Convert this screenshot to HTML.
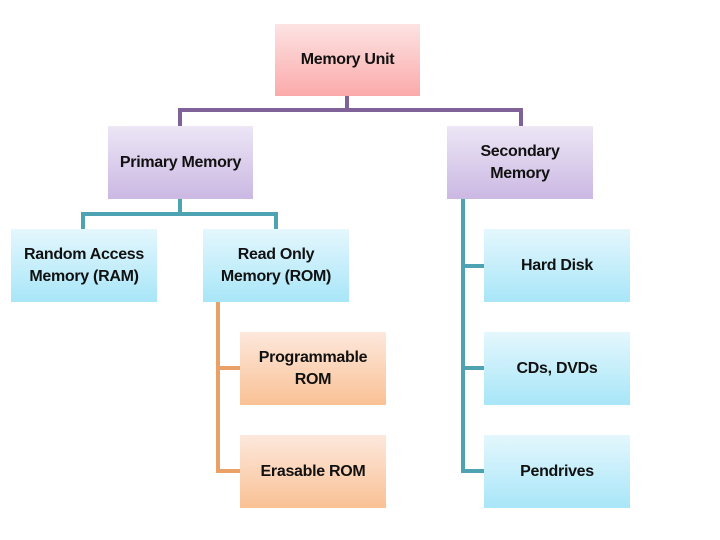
<!DOCTYPE html>
<html><head><style>
body{margin:0;width:720px;height:540px;background:#fff;position:relative;overflow:hidden;font-family:"Liberation Sans",sans-serif;}
.b{position:absolute;display:flex;align-items:center;justify-content:center;text-align:center;font-size:16px;line-height:22px;color:#111;letter-spacing:-0.3px;font-weight:bold}
.r{background:linear-gradient(#fde3e3,#fbaaaa)}
.p{background:linear-gradient(#ece6f5,#cbb8e3)}
.c{background:linear-gradient(#e4f7fd,#a8e6f8)}
.o{background:linear-gradient(#fde8dc,#f9c195)}
.l{position:absolute}
.pu{background:#7f6398}.te{background:#4ea3b2}.or{background:#e9a167}
</style></head><body>
<div class="l pu" style="left:345px;top:96px;width:4px;height:16px"></div>
<div class="l pu" style="left:178px;top:108px;width:345px;height:4px"></div>
<div class="l pu" style="left:178px;top:108px;width:4px;height:18px"></div>
<div class="l pu" style="left:519px;top:108px;width:4px;height:18px"></div>

<div class="l te" style="left:178px;top:199px;width:4px;height:16px"></div>
<div class="l te" style="left:81px;top:212px;width:197px;height:4px"></div>
<div class="l te" style="left:81px;top:212px;width:4px;height:17px"></div>
<div class="l te" style="left:274px;top:212px;width:4px;height:17px"></div>

<div class="l or" style="left:216px;top:302px;width:4px;height:171px"></div>
<div class="l or" style="left:216px;top:366px;width:24px;height:4px"></div>
<div class="l or" style="left:216px;top:469px;width:24px;height:4px"></div>

<div class="l te" style="left:461px;top:199px;width:4px;height:274px"></div>
<div class="l te" style="left:461px;top:264px;width:23px;height:4px"></div>
<div class="l te" style="left:461px;top:366px;width:23px;height:4px"></div>
<div class="l te" style="left:461px;top:469px;width:23px;height:4px"></div>

<div class="b r" style="left:275px;top:24px;width:145px;height:72px">Memory Unit</div>
<div class="b p" style="left:108px;top:126px;width:145px;height:73px">Primary Memory</div>
<div class="b p" style="left:447px;top:126px;width:146px;height:73px">Secondary<br>Memory</div>
<div class="b c" style="left:11px;top:229px;width:146px;height:73px">Random Access<br>Memory (RAM)</div>
<div class="b c" style="left:203px;top:229px;width:146px;height:73px">Read Only<br>Memory (ROM)</div>
<div class="b o" style="left:240px;top:332px;width:146px;height:73px">Programmable<br>ROM</div>
<div class="b o" style="left:240px;top:435px;width:146px;height:73px">Erasable ROM</div>
<div class="b c" style="left:484px;top:229px;width:146px;height:73px">Hard Disk</div>
<div class="b c" style="left:484px;top:332px;width:146px;height:73px">CDs, DVDs</div>
<div class="b c" style="left:484px;top:435px;width:146px;height:73px">Pendrives</div>
</body></html>
